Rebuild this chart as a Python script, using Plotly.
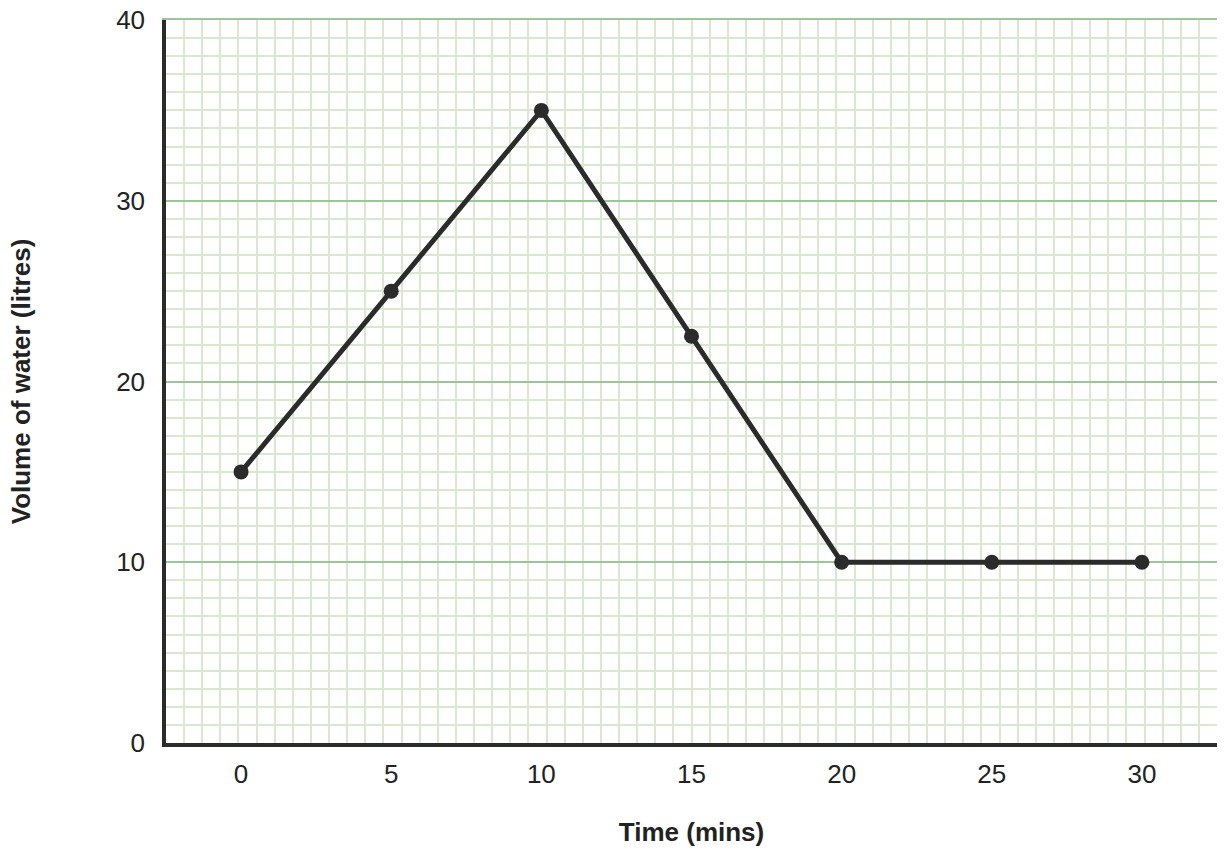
import plotly.graph_objects as go

# Time (mins) and volume of water (litres)
time_mins = [0, 5, 10, 15, 20, 25, 30]
volume_litres = [15, 25, 35, 22.5, 10, 10, 10]
x_ticks = [0, 5, 10, 15, 20, 25, 30]
y_ticks = [0, 10, 20, 30, 40]

ink = "#2b2b2b"
text_col = "#222222"
major_grid = "#9dc59a"
minor_grid = "#d8e9cf"

fig = go.Figure()
fig.add_trace(go.Scatter(
    x=time_mins,
    y=volume_litres,
    mode="lines+markers",
    line=dict(color=ink, width=5),
    marker=dict(color=ink, size=15),
    cliponaxis=False,
    showlegend=False,
))
# invisible helper trace so the top axis (gridline at 40) gets drawn
fig.add_trace(go.Scatter(
    x=time_mins, y=volume_litres, xaxis="x2",
    mode="none", hoverinfo="skip", showlegend=False,
))

fig.update_xaxes(
    range=[-2.5, 32.5],
    tickvals=x_ticks,
    showgrid=False,
    zeroline=False,
    showline=True, linecolor=ink, linewidth=3.5,
    ticks="", ticklabelstandoff=5,
    tickfont=dict(size=26, color=text_col),
    title=dict(text="<b>Time (mins)</b>", font=dict(size=26, color=text_col), standoff=36),
    minor=dict(showgrid=True, gridcolor=minor_grid, gridwidth=2,
               tick0=-2.5, dtick=35 / 58, ticks=""),
)
fig.update_yaxes(
    range=[0, 40],
    tickvals=y_ticks,
    showgrid=True, gridcolor=major_grid, gridwidth=2,
    zeroline=False,
    showline=True, linecolor=ink, linewidth=3.5,
    ticks="", ticklabelstandoff=12,
    tickfont=dict(size=26, color=text_col),
    title=dict(text="<b>Volume of water (litres)</b>", font=dict(size=26, color=text_col), standoff=79),
    minor=dict(showgrid=True, gridcolor=minor_grid, gridwidth=2,
               tick0=0, dtick=1, ticks=""),
)

fig.update_layout(
    xaxis2=dict(overlaying="x", side="top", range=[-2.5, 32.5], showline=True,
                linecolor=major_grid, linewidth=2, showticklabels=False,
                showgrid=False, zeroline=False, ticks=""),
)

fig.update_layout(
    width=1228, height=855,
    margin=dict(l=166, r=11, t=20, b=112, autoexpand=False),
    paper_bgcolor="white",
    plot_bgcolor="white",
    font=dict(family="Liberation Sans, Arial, sans-serif", color=text_col),
)

# drop the page's default body margin so the figure fills the window exactly
fig.write_html("out.html", config={"displayModeBar": False},
               post_script="document.body.style.margin='0';")
